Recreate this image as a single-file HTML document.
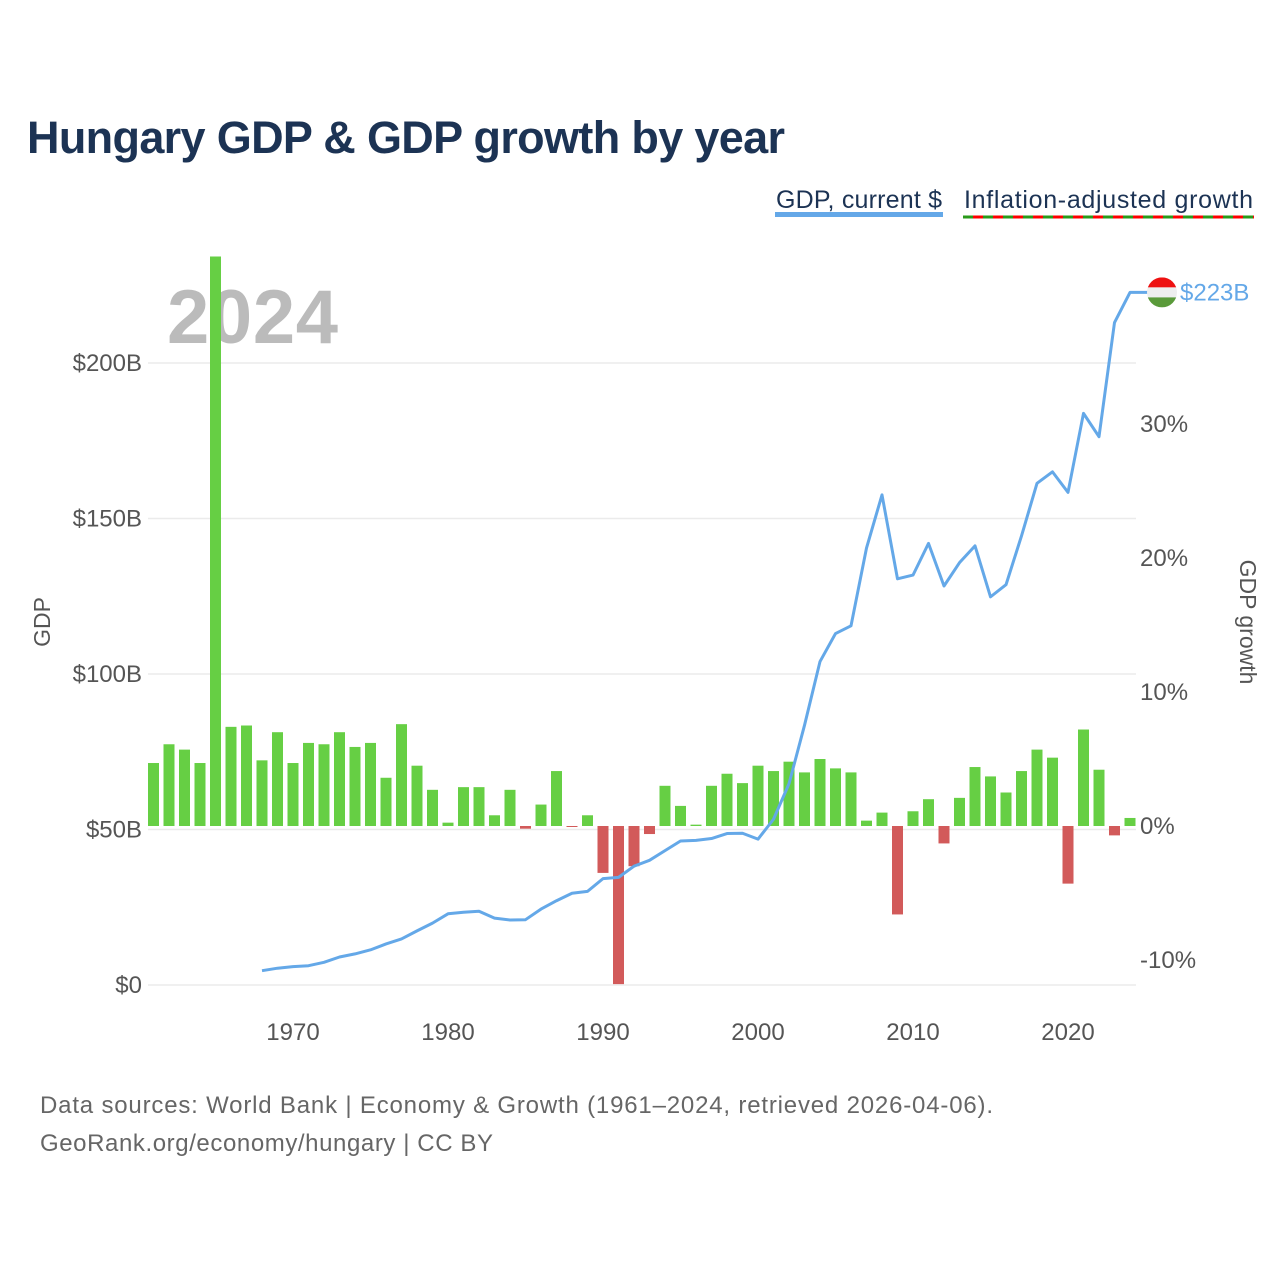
<!DOCTYPE html>
<html><head><meta charset="utf-8"><style>
body{margin:0;background:#fff;font-family:"Liberation Sans",sans-serif}
svg text{font-family:"Liberation Sans",sans-serif}
</style></head><body>
<svg width="1280" height="1280" viewBox="0 0 1280 1280" xmlns="http://www.w3.org/2000/svg">
<rect width="1280" height="1280" fill="#fff"/>
<text x="27" y="153" font-size="45" font-weight="bold" fill="#1c3354" textLength="758">Hungary GDP &amp; GDP growth by year</text>
<g>
<text x="776" y="208" font-size="25" fill="#1c3354" textLength="166">GDP, current $</text>
<rect x="775" y="212" width="168" height="5" fill="#64a8e8"/>
</g>
<g>
<text x="964" y="208" font-size="25" fill="#1c3354" textLength="289">Inflation-adjusted growth</text>
<line x1="963" y1="217" x2="1254" y2="217" stroke="#2a9a1a" stroke-width="3"/>
<line x1="973" y1="217" x2="1254" y2="217" stroke="#ff0000" stroke-width="3" stroke-dasharray="10 10"/>
</g>
<g id="grid"></g>
<text x="167" y="343" font-size="76" font-weight="bold" fill="#bbb" textLength="171">2024</text>
<g id="bars"></g>
<g id="line"></g>
<g id="axes"></g>
<text transform="translate(50,622) rotate(-90)" text-anchor="middle" font-size="23" fill="#555">GDP</text>
<text transform="translate(1240,622) rotate(90)" text-anchor="middle" font-size="23" fill="#555">GDP growth</text>
<text x="40" y="1113" font-size="24" fill="#666" textLength="953">Data sources: World Bank | Economy &amp; Growth (1961–2024, retrieved 2026-04-06).</text>
<text x="40" y="1151" font-size="24" fill="#666" textLength="453">GeoRank.org/economy/hungary | CC BY</text>
</svg>
<script>
const growthYears=[];for(let y=1961;y<=2024;y++)growthYears.push(y);
const growth=[4.7,6.1,5.7,4.7,42.5,7.4,7.5,4.9,7.0,4.7,6.2,6.1,7.0,5.9,6.2,3.6,7.6,4.5,2.7,0.25,2.9,2.9,0.8,2.7,-0.2,1.6,4.1,-0.05,0.8,-3.5,-11.8,-3.0,-0.6,3.0,1.5,0.1,3.0,3.9,3.2,4.5,4.1,4.8,4.0,5.0,4.3,4.0,0.4,1.0,-6.6,1.1,2.0,-1.3,2.1,4.4,3.7,2.5,4.1,5.7,5.1,-4.3,7.2,4.2,-0.7,0.6];
const gdpYears=[];for(let y=1968;y<=2024;y++)gdpYears.push(y);
const gdp=[4.6,5.4,5.9,6.2,7.3,9.0,10.0,11.3,13.2,14.8,17.4,19.9,22.9,23.4,23.7,21.5,20.9,21.0,24.4,27.1,29.5,30.1,34.2,34.6,38.2,40.1,43.2,46.3,46.5,47.1,48.7,48.8,46.9,53.3,64.7,83.5,104.0,113.0,115.5,140.5,157.6,130.6,131.8,142.0,128.3,135.8,141.2,124.8,128.7,144.4,161.3,165.0,158.4,183.8,176.3,213.0,222.7];
const leftTicks=[0,50,100,150,200];
const leftLabels=["$0","$50B","$100B","$150B","$200B"];
const rightTicks=[-10,0,10,20,30];
const rightLabels=["-10%","0%","10%","20%","30%"];
const xTicks=[1970,1980,1990,2000,2010,2020];
const NS="http://www.w3.org/2000/svg";
const X=y=>293+(y-1970)*15.5;
const YL=v=>985-v*3.11;
const YR=v=>826-v*13.4;
function mk(t,a,p){const e=document.createElementNS(NS,t);for(const k in a)e.setAttribute(k,a[k]);p.appendChild(e);return e;}
const grid=document.getElementById('grid'),bars=document.getElementById('bars'),line=document.getElementById('line'),axes=document.getElementById('axes');
leftTicks.forEach((v,i)=>{
 const g=mk('line',{x1:148,x2:1136,y1:YL(v),y2:YL(v),stroke:'#ebebeb','stroke-width':1.5},grid);
 
 
 const t=mk('text',{x:142,y:YL(v)+8,'text-anchor':'end','font-size':24,fill:'#555'},axes);t.textContent=leftLabels[i];
 
 
});
rightTicks.forEach((v,i)=>{
 const t=mk('text',{x:1140,y:YR(v)+8,'font-size':24,fill:'#555'},axes);t.textContent=rightLabels[i];
 
 
});
xTicks.forEach(v=>{
 const t=mk('text',{x:X(v),y:1040,'text-anchor':'middle','font-size':24,fill:'#555'},axes);t.textContent=v;
 
 
});
growthYears.forEach((y,i)=>{
 const v=growth[i],y0=YR(0),y1=YR(v);
 const r=mk('rect',{x:X(y)-5.5,width:11,y:Math.min(y0,y1),height:Math.max(Math.abs(y1-y0),1),fill:v>=0?'#66cf44':'#d25a5a'},bars);
 
 
});
const pts=gdpYears.map((y,i)=>X(y)+','+YL(gdp[i]));
const last=gdpYears.length-1;
pts.push('1150,'+YL(gdp[last]));
const pl=mk('polyline',{points:pts.join(' '),fill:'none',stroke:'#64a8e8','stroke-width':3,'stroke-linejoin':'round'},line);


const fy=YL(gdp[last]);
const fg=mk('g',{},line);


mk('clipPath',{id:'fc'},fg);
mk('circle',{cx:1162,cy:fy,r:15},document.getElementById('fc'));
const cg=mk('g',{'clip-path':'url(#fc)'},fg);
mk('rect',{x:1147,y:fy-15,width:30,height:10,fill:'#ee1111'},cg);
mk('rect',{x:1147,y:fy-5,width:30,height:10,fill:'#eeeeee'},cg);
mk('rect',{x:1147,y:fy+5,width:30,height:10,fill:'#5a9a3a'},cg);
const lbl=mk('text',{x:1180,y:fy+8,'font-size':24,fill:'#64a8e8'},line);lbl.textContent='$223B';


</script>
</body></html>
